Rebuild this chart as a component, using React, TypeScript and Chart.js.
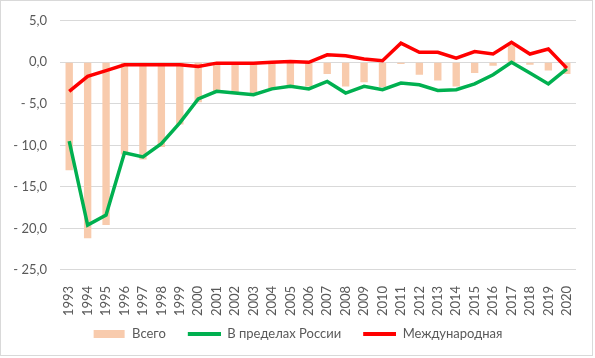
import React, { useEffect, useRef } from 'react';
import { Chart, registerables } from 'chart.js';
Chart.register(...registerables);

const years = ['1993','1994','1995','1996','1997','1998','1999','2000','2001','2002','2003','2004','2005','2006','2007','2008','2009','2010','2011','2012','2013','2014','2015','2016','2017','2018','2019','2020'];
const total = [-13.0, -21.2, -19.6, -11.1, -11.7, -10.2, -7.5, -4.8, -3.6, -3.7, -3.8, -3.2, -2.8, -2.9, -1.4, -2.9, -2.4, -3.0, -0.2, -1.5, -2.2, -2.9, -1.3, -0.4, 2.1, -0.3, -1.0, -1.4];
const domestic = [-9.5, -19.6, -18.4, -10.9, -11.4, -9.8, -7.3, -4.4, -3.5, -3.7, -3.9, -3.2, -2.9, -3.2, -2.3, -3.7, -2.9, -3.3, -2.5, -2.7, -3.4, -3.3, -2.6, -1.5, 0.0, -1.3, -2.6, -0.8];
const international = [-3.5, -1.7, -1.0, -0.3, -0.3, -0.3, -0.3, -0.5, -0.1, -0.1, -0.1, 0.0, 0.1, 0.0, 0.9, 0.8, 0.4, 0.2, 2.3, 1.2, 1.2, 0.5, 1.3, 1.0, 2.4, 1.0, 1.6, -0.7];
const seriesNames = ['Всего', 'В пределах России', 'Международная'];
const yMin = -25;
const yMax = 5;
const yStep = 5;

const BAR_COLOR = '#f8cbad';
const GREEN = '#00b050';
const RED = '#ff0000';
const TEXT = '#595959';
const FONT = 'Lato, "Open Sans", sans-serif';
const SW_W = 52;

function makeSwatch(w: number, h: number, color: string, rightGap: number) {
  const c = document.createElement('canvas');
  c.width = SW_W;
  c.height = h;
  const ctx = c.getContext('2d')!;
  ctx.fillStyle = color;
  ctx.fillRect(SW_W - w - rightGap, 0, w, h);
  return c;
}

function fmt(v: number) {
  const s = Math.abs(v).toFixed(1).replace('.', ',');
  return v < 0 ? '- ' + s : s;
}

export default function App() {
  const ref = useRef<HTMLCanvasElement>(null);
  useEffect(() => {
    document.body.style.margin = '0';
    const swatches = [makeSwatch(31, 8, BAR_COLOR, 1), makeSwatch(33, 4, GREEN, 0), makeSwatch(33, 4, RED, 0)];
    const border = {
      id: 'frame',
      beforeDraw(chart: any) {
        const ctx = chart.ctx;
        ctx.save();
        ctx.fillStyle = '#fff';
        ctx.fillRect(0, 0, chart.width, chart.height);
        ctx.restore();
      },
      afterDraw(chart: any) {
        const ctx = chart.ctx;
        ctx.save();
        ctx.strokeStyle = '#d9d9d9';
        ctx.lineWidth = 1;
        ctx.strokeRect(0.5, 0.5, 592, 355);
        ctx.restore();
      },
    };
    const chart = new Chart(ref.current!, {
      type: 'bar',
      data: {
        labels: years,
        datasets: [
          { type: 'bar', label: seriesNames[0], data: total, backgroundColor: BAR_COLOR, barPercentage: 1, categoryPercentage: 0.4, order: 3 },
          { type: 'line', label: seriesNames[1], data: domestic, borderColor: GREEN, backgroundColor: GREEN, borderWidth: 3.5, pointRadius: 0, tension: 0, order: 2 },
          { type: 'line', label: seriesNames[2], data: international, borderColor: RED, backgroundColor: RED, borderWidth: 3.5, pointRadius: 0, tension: 0, order: 1 },
        ] as any,
      },
      options: {
        animation: false,
        responsive: false,
        devicePixelRatio: 1,
        layout: { padding: { top: 12, right: 19, bottom: 8, left: 0 } },
        plugins: {
          tooltip: { enabled: false },
          legend: {
            position: 'bottom',
            labels: {
              usePointStyle: true,
              pointStyleWidth: SW_W,
              boxHeight: 8,
              padding: 3,
              color: TEXT,
              font: { family: FONT, size: 13 },
              generateLabels: (ch: any) =>
                ch.data.datasets.map((d: any, i: number) => ({
                  text: d.label,
                  pointStyle: swatches[i],
                  fillStyle: 'transparent',
                  strokeStyle: 'transparent',
                  lineWidth: 0,
                  hidden: false,
                  datasetIndex: i,
                  fontColor: TEXT,
                })),
            },
          },
        },
        scales: {
          x: {
            grid: { display: false },
            border: { display: false },
            ticks: { color: TEXT, font: { family: FONT, size: 13 }, minRotation: 90, maxRotation: 90, autoSkip: false, padding: 8 },
          },
          y: {
            min: yMin,
            max: yMax,
            grid: { color: '#d9d9d9', drawTicks: false, lineWidth: 1 },
            border: { display: false },
            ticks: { stepSize: yStep, color: TEXT, font: { family: FONT, size: 13 }, padding: 13, callback: (v: any) => fmt(Number(v)) },
            afterFit: (s: any) => { s.width = 60; },
          },
        },
      },
      plugins: [border],
    });
    return () => chart.destroy();
  }, []);
  return (
    <div style={{ position: 'absolute', left: 0, top: 0, width: 595, height: 358 }}>
      <canvas ref={ref} width={595} height={358} />
    </div>
  );
}
